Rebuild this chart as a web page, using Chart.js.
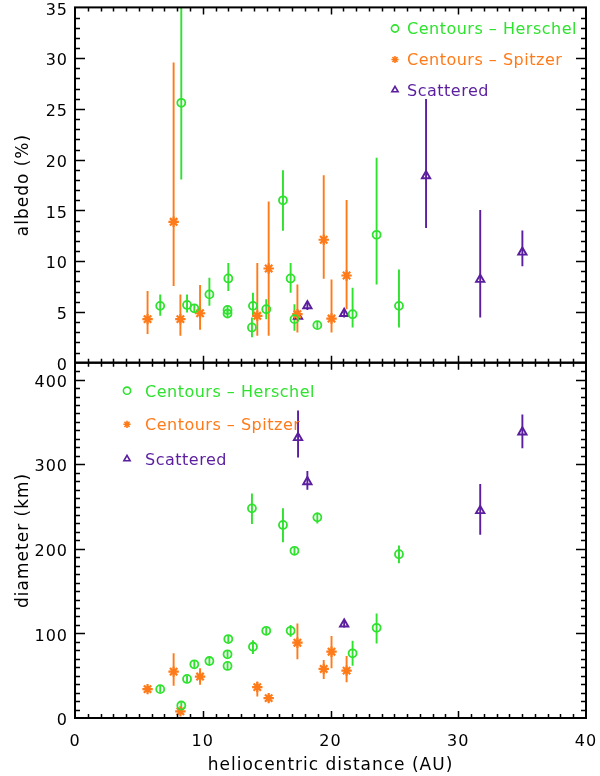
<!DOCTYPE html>
<html>
<head>
<meta charset="utf-8">
<script src="https://cdn.jsdelivr.net/npm/chart.js@4.4.1/dist/chart.umd.min.js"></script>
<style>
  html, body { margin: 0; padding: 0; background: #fff; }
  canvas { display: block; }
</style>
</head>
<body>
<canvas id="chart" width="600" height="776"></canvas>
<script>
/* ================= DATA ================= */

// Centaurs - Herschel
const herschelDist   = [6.67, 8.32, 8.77, 9.34, 10.52, 12.0, 11.94, 11.94, 13.85, 13.93, 14.97, 16.28, 16.88, 17.18, 18.97, 21.73, 23.61, 25.36];
const herschelAlb    = [5.6, 25.6, 5.69, 5.36, 6.73, 8.3, 5.2, 4.84, 3.47, 5.6, 5.27, 16.0, 8.3, 4.29, 3.7, 4.78, 12.6, 5.6];
const herschelAlbLo  = [4.62, 18.05, 4.94, 4.95, 5.6, 7.06, 4.85, 4.5, 2.5, 4.62, 4.29, 12.99, 6.9, 3.15, 3.35, 3.47, 7.71, 3.47];
const herschelAlbHi  = [6.73, 40, 6.73, 5.75, 8.37, 9.83, 5.55, 5.2, 4.45, 6.9, 6.25, 18.96, 9.83, 5.75, 4.05, 7.39, 20.18, 9.18];
const herschelDiam   = [34.1, 14.8, 46.2, 63.5, 67.4, 93.3, 75.3, 61.5, 247.8, 84.2, 103.1, 228.2, 103.1, 197.6, 237.2, 76.5, 106.6, 193.6];
const herschelDiamLo = [30, 11, 42, 59.5, 63.4, 89.3, 71.3, 57.5, 229.4, 75.6, 99, 207.8, 96, 193.6, 230, 61.9, 88.2, 183];
const herschelDiamHi = [38, 18.6, 50, 67.5, 71.4, 97.3, 79.3, 65.5, 265.4, 92, 107, 247.8, 109.8, 201.6, 243, 91.3, 123.5, 203.9];

// Centaurs - Spitzer
const spitzerDist   = [5.68, 7.72, 8.25, 9.79, 14.27, 15.16, 17.41, 19.47, 20.08, 21.26];
const spitzerAlb    = [4.29, 13.88, 4.29, 4.87, 4.62, 9.28, 4.78, 12.11, 4.35, 8.59];
const spitzerAlbLo  = [2.82, 7.55, 2.66, 3.25, 2.66, 2.66, 2.98, 8.27, 2.98, 5.26];
const spitzerAlbHi  = [7.07, 29.57, 6.73, 7.65, 9.83, 15.87, 7.71, 18.47, 8.2, 16.03];
const spitzerDiam   = [34.1, 54.8, 7.8, 49, 36.5, 23.5, 89, 58, 78.4, 56];
const spitzerDiamLo = [30, 38, 4, 39.2, 25.4, 19.5, 69.4, 46.2, 58.8, 42.4];
const spitzerDiamHi = [38, 76.5, 11.6, 58.8, 43, 27.5, 111.8, 68.6, 96.8, 73.3];

// Scattered disk objects (no diameter for the one at 27.5 AU)
const scatDist   = [17.46, 18.19, 21.07, 27.48, 31.72, 35.02];
const scatAlb    = [4.55, 5.6, 4.84, 18.41, 8.2, 10.88];
const scatAlbLo  = [4.1, 5.2, 4.45, 13.26, 4.45, 9.51];
const scatAlbHi  = [5.0, 6.0, 5.25, 25.98, 15.05, 13.03];
const scatDiam   = [331.3, 279.2, 111, null, 245, 338];
const scatDiamLo = [307.8, 269.8, 107, null, 216.5, 318.8];
const scatDiamHi = [363.5, 292.1, 115, null, 276.5, 358.8];

const legendLabels = ["Centours \u2013 Herschel", "Centours \u2013 Spitzer", "Scattered"];

/* ================= STYLE ================= */

const GREEN = "#2ee22e";
const ORANGE = "#ff7a18";
const PURPLE = "#5a1e9e";
const FONT = "'DejaVu Sans', sans-serif";
const NONE = "rgba(0,0,0,0)";

const markers = [
  { color: GREEN,  pointStyle: "circle",   radius: 4,   borderWidth: 1.8 },
  { color: ORANGE, pointStyle: "star",     radius: 5.2, borderWidth: 2.2 },
  { color: PURPLE, pointStyle: "triangle", radius: 4.8, borderWidth: 1.9 }
];

function points(xs, ys, lo, hi) {
  const out = [];
  xs.forEach((x, i) => {
    if (ys[i] != null) out.push({ x, y: ys[i], lo: lo[i], hi: hi[i] });
  });
  return out;
}

function dataset(data, m, axis) {
  return {
    data,
    yAxisID: axis,
    borderColor: m.color,
    backgroundColor: NONE,
    pointStyle: m.pointStyle,
    pointRadius: m.radius,
    pointHoverRadius: m.radius,
    pointBorderWidth: m.borderWidth,
    pointBackgroundColor: NONE,
    pointBorderColor: m.color,
    showLine: false
  };
}

/* ================= PLUGINS ================= */

const errorBars = {
  id: "errorBars",
  beforeDatasetsDraw(chart) {
    const ctx = chart.ctx;
    const xs = chart.scales.x;
    chart.data.datasets.forEach(ds => {
      const ys = chart.scales[ds.yAxisID];
      ctx.save();
      ctx.beginPath();
      ctx.rect(xs.left, ys.top, xs.right - xs.left, ys.bottom - ys.top);
      ctx.clip();
      ctx.strokeStyle = ds.borderColor;
      ctx.lineWidth = 1.9;
      ds.data.forEach(p => {
        const px = xs.getPixelForValue(p.x);
        ctx.beginPath();
        ctx.moveTo(px, ys.getPixelForValue(p.lo));
        ctx.lineTo(px, ys.getPixelForValue(p.hi));
        ctx.stroke();
      });
      ctx.restore();
    });
  }
};

// IDL style box with inward ticks on all four sides of each panel
const frame = {
  id: "frame",
  afterDraw(chart) {
    const ctx = chart.ctx;
    const xs = chart.scales.x;
    const panels = [["yA", 5, 1], ["yD", 100, 10]];
    ctx.save();
    ctx.strokeStyle = "#000";
    panels.forEach(([id, major, minor]) => {
      const ys = chart.scales[id];
      const l = xs.left, r = xs.right, t = ys.top, b = ys.bottom;
      ctx.lineWidth = 1.5;
      ctx.beginPath();
      for (let i = 1; i < 40; i++) {
        const px = Math.round(xs.getPixelForValue(i)) + 0.5;
        const len = i % 10 === 0 ? 7 : 4;
        ctx.moveTo(px, b); ctx.lineTo(px, b - len);
        ctx.moveTo(px, t); ctx.lineTo(px, t + len);
      }
      const n = Math.round((ys.max - ys.min) / minor);
      for (let i = 1; i < n; i++) {
        const v = ys.min + i * minor;
        const py = Math.round(ys.getPixelForValue(v)) + 0.5;
        const len = (i * minor) % major === 0 ? 10 : 5;
        ctx.moveTo(l, py); ctx.lineTo(l + len, py);
        ctx.moveTo(r, py); ctx.lineTo(r - len, py);
      }
      ctx.stroke();
      ctx.lineWidth = 2;
      ctx.strokeRect(l, t, r - l, b - t);
    });
    ctx.restore();
  }
};

const legends = {
  id: "legends",
  afterDraw(chart) {
    const ctx = chart.ctx;
    const boxes = [
      { sx: 395, tx: 407, rows: [28.5, 59.5, 90] },
      { sx: 127, tx: 145, rows: [390.7, 424.3, 459] }
    ];
    ctx.save();
    ctx.letterSpacing = "0.5px";
    ctx.font = "16px " + FONT;
    ctx.textBaseline = "alphabetic";
    boxes.forEach(box => {
      markers.forEach((m, i) => {
        const y = box.rows[i];
        ctx.strokeStyle = m.color;
        ctx.fillStyle = NONE;
        ctx.lineWidth = 1.6;
        Chart.helpers.drawPoint(ctx, { pointStyle: m.pointStyle, radius: 3.6, borderWidth: 1.6, rotation: 0 }, box.sx, y);
        ctx.fillStyle = m.color;
        ctx.fillText(legendLabels[i], box.tx, y + 5.8);
      });
    });
    ctx.restore();
  }
};

const spacing = {
  id: "spacing",
  beforeDraw(chart) { chart.ctx.letterSpacing = "1px"; }
};

/* ================= CHART ================= */

function yAxis(min, max, step, title) {
  return {
    type: "linear",
    position: "left",
    stack: "panels",
    stackWeight: 1,
    min, max,
    grid: { display: false, drawTicks: false },
    border: { display: false },
    ticks: {
      stepSize: step,
      includeBounds: false,
      color: "#000",
      font: { family: FONT, size: 16 },
      padding: 7,
      labelOffset: 3
    },
    title: {
      display: true,
      text: title,
      color: "#000",
      font: { family: FONT, size: 17 },
      padding: { top: 13, bottom: 0 }
    },
    afterFit(s) { s.width = 75; s.paddingTop = 0; s.paddingBottom = 0; }
  };
}

new Chart(document.getElementById("chart"), {
  type: "scatter",
  data: {
    datasets: [
      dataset(points(herschelDist, herschelAlb, herschelAlbLo, herschelAlbHi), markers[0], "yA"),
      dataset(points(spitzerDist, spitzerAlb, spitzerAlbLo, spitzerAlbHi), markers[1], "yA"),
      dataset(points(scatDist, scatAlb, scatAlbLo, scatAlbHi), markers[2], "yA"),
      dataset(points(herschelDist, herschelDiam, herschelDiamLo, herschelDiamHi), markers[0], "yD"),
      dataset(points(spitzerDist, spitzerDiam, spitzerDiamLo, spitzerDiamHi), markers[1], "yD"),
      dataset(points(scatDist, scatDiam, scatDiamLo, scatDiamHi), markers[2], "yD")
    ]
  },
  options: {
    responsive: false,
    devicePixelRatio: 1,
    animation: false,
    layout: { padding: { top: 3, right: 14, left: 0, bottom: 0 } },
    plugins: {
      legend: { display: false },
      tooltip: { enabled: false }
    },
    scales: {
      x: {
        type: "linear",
        position: "bottom",
        min: 0, max: 40,
        grid: { display: false, drawTicks: false },
        border: { display: false },
        ticks: {
          stepSize: 10,
          color: "#000",
          font: { family: FONT, size: 16 },
          padding: 14,
          maxRotation: 0
        },
        title: {
          display: true,
          text: "heliocentric distance (AU)",
          color: "#000",
          font: { family: FONT, size: 17 },
          padding: { top: 0, bottom: 0 }
        },
        afterFit(s) { s.height = 58; s.paddingLeft = 0; s.paddingRight = 0; }
      },
      yD: yAxis(0, 420, 100, "diameter (km)"),
      yA: yAxis(0, 35, 5, "albedo (%)")
    }
  },
  plugins: [spacing, errorBars, frame, legends]
});
</script>
</body>
</html>
